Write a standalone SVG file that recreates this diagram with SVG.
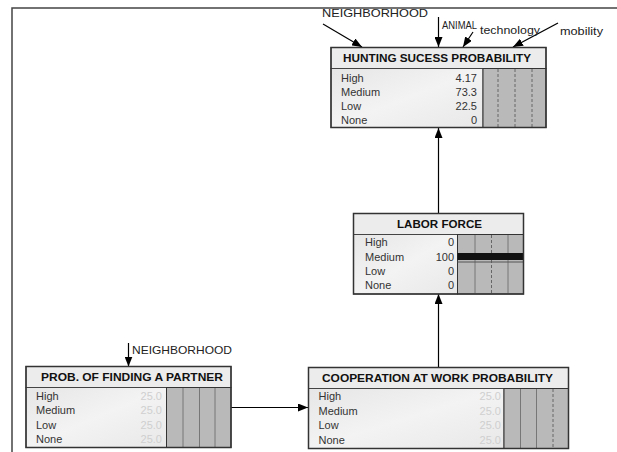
<svg xmlns="http://www.w3.org/2000/svg" width="617" height="452" viewBox="0 0 617 452">
<defs>
<linearGradient id="bodyg" x1="0" y1="0" x2="1" y2="1">
<stop offset="0" stop-color="#e6e6e6"/><stop offset="0.5" stop-color="#f3f3f3"/><stop offset="1" stop-color="#e8e8e8"/>
</linearGradient>
<marker id="ah" viewBox="0 0 10 8" refX="10" refY="4" markerWidth="10" markerHeight="8" markerUnits="userSpaceOnUse" orient="auto">
<path d="M0,0 L10,4 L0,8 z" fill="#000"/>
</marker>
<style>
.box{fill:none;stroke:#333;stroke-width:1.5}
.title{fill:#ececec;stroke:#444;stroke-width:1}
.body{fill:url(#bodyg);stroke:#444;stroke-width:1}
.bars{fill:#b9b9b9;stroke:#333;stroke-width:1}
.vl{stroke:#777;stroke-width:1}
.dl{stroke:#666;stroke-width:1;stroke-dasharray:3,2}
.tt{font-family:"Liberation Sans",Arial,sans-serif;font-weight:bold;font-size:10.5px;fill:#111}
.lb{font-family:"Liberation Sans",Arial,sans-serif;font-size:11px;fill:#333}
.val{font-family:"Liberation Sans",Arial,sans-serif;font-size:11px;fill:#333;text-anchor:end}
.vlt{font-family:"Liberation Sans",Arial,sans-serif;font-size:11px;fill:#cfcfcf;text-anchor:end}
.ext{font-family:"Liberation Sans",Arial,sans-serif;font-size:11px;fill:#222}
.cn{stroke:#000;stroke-width:1.2;fill:none}
</style>
</defs>
<rect x="0" y="0" width="617" height="452" fill="#fff"/>
<path d="M12,452 L12,8 L617,8" fill="none" stroke="#444" stroke-width="1.5"/>

<g id="connectors">
<line class="cn" x1="323" y1="24" x2="362" y2="47" marker-end="url(#ah)"/>
<line class="cn" x1="438.5" y1="17" x2="438.5" y2="47" marker-end="url(#ah)"/>
<line class="cn" x1="473" y1="32" x2="463" y2="47" marker-end="url(#ah)"/>
<line class="cn" x1="558" y1="23" x2="513" y2="47" marker-end="url(#ah)"/>
<line class="cn" x1="438.5" y1="213" x2="438.5" y2="128" marker-end="url(#ah)"/>
<line class="cn" x1="438.5" y1="367" x2="438.5" y2="294" marker-end="url(#ah)"/>
<line class="cn" x1="231" y1="407.5" x2="308" y2="407.5" marker-end="url(#ah)"/>
<line class="cn" x1="128.5" y1="343" x2="128.5" y2="366.5" marker-end="url(#ah)"/>
</g>

<g id="labels">
<text class="ext" x="322" y="17" textLength="106" lengthAdjust="spacingAndGlyphs">NEIGHBORHOOD</text>
<text class="ext" x="442" y="29" textLength="35" lengthAdjust="spacingAndGlyphs">ANIMAL</text>
<text class="ext" x="480" y="34" textLength="60" lengthAdjust="spacingAndGlyphs">technology</text>
<text class="ext" x="560" y="35" textLength="43" lengthAdjust="spacingAndGlyphs">mobility</text>
<text class="ext" x="132" y="354" textLength="100" lengthAdjust="spacingAndGlyphs">NEIGHBORHOOD</text>
</g>

<g id="hunting">
<rect class="title" x="331" y="47.5" width="215" height="21"/>
<rect class="body" x="331" y="68.5" width="152" height="59"/>
<rect class="bars" x="483" y="68.5" width="63" height="59"/>
<line class="dl" x1="498" y1="69" x2="498" y2="127"/>
<line class="dl" x1="515" y1="69" x2="515" y2="127"/>
<line class="dl" x1="532" y1="69" x2="532" y2="127"/>
<rect class="box" x="331" y="47.5" width="215" height="80"/>
<text class="tt" x="343" y="62" textLength="188" lengthAdjust="spacingAndGlyphs">HUNTING SUCESS PROBABILITY</text>
<text class="lb" x="341" y="81.5">High</text>
<text class="lb" x="341" y="95.5">Medium</text>
<text class="lb" x="341" y="110">Low</text>
<text class="lb" x="341" y="124">None</text>
<text class="val" x="477" y="81.5">4.17</text>
<text class="val" x="477" y="95.5">73.3</text>
<text class="val" x="477" y="110">22.5</text>
<text class="val" x="477" y="124">0</text>
</g>

<g id="labor">
<rect class="title" x="353.5" y="213.5" width="170" height="21"/>
<rect class="body" x="353.5" y="234.5" width="104" height="59.5"/>
<rect class="bars" x="457.5" y="234.5" width="66" height="59.5"/>
<line class="vl" x1="475" y1="235" x2="475" y2="294"/>
<line class="dl" x1="491.5" y1="235" x2="491.5" y2="294"/>
<line class="vl" x1="508" y1="235" x2="508" y2="294"/>
<rect x="457.5" y="253" width="66" height="7" fill="#111"/>
<line x1="457.5" y1="262" x2="523.5" y2="262" stroke="#555" stroke-width="1"/>
<rect class="box" x="353.5" y="213.5" width="170" height="80.5"/>
<text class="tt" x="397" y="228" textLength="85" lengthAdjust="spacingAndGlyphs">LABOR FORCE</text>
<text class="lb" x="365" y="246.3">High</text>
<text class="lb" x="365" y="260.7">Medium</text>
<text class="lb" x="365" y="275">Low</text>
<text class="lb" x="365" y="289">None</text>
<text class="val" x="454" y="246.3">0</text>
<text class="val" x="454" y="260.7">100</text>
<text class="val" x="454" y="275">0</text>
<text class="val" x="454" y="289">0</text>
</g>

<g id="partner">
<rect class="title" x="26" y="366.5" width="205" height="21"/>
<rect class="body" x="26" y="387.5" width="140.5" height="60"/>
<rect class="bars" x="166.5" y="387.5" width="64.5" height="60"/>
<line class="vl" x1="183" y1="388" x2="183" y2="447"/>
<line class="vl" x1="199.5" y1="388" x2="199.5" y2="447"/>
<line class="vl" x1="215" y1="388" x2="215" y2="447"/>
<rect class="box" x="26" y="366.5" width="205" height="81"/>
<text class="tt" x="41" y="380.5" textLength="182" lengthAdjust="spacingAndGlyphs">PROB. OF FINDING A PARTNER</text>
<text class="lb" x="36" y="400">High</text>
<text class="lb" x="36" y="414.3">Medium</text>
<text class="lb" x="36" y="429">Low</text>
<text class="lb" x="36" y="443.3">None</text>
<text class="vlt" x="162" y="400">25.0</text>
<text class="vlt" x="162" y="414.3">25.0</text>
<text class="vlt" x="162" y="429">25.0</text>
<text class="vlt" x="162" y="443.3">25.0</text>
</g>

<g id="cooperation">
<rect class="title" x="308.5" y="367.5" width="260" height="21"/>
<rect class="body" x="308.5" y="388.5" width="195.5" height="60"/>
<rect class="bars" x="504" y="388.5" width="64.5" height="60"/>
<line class="vl" x1="520.5" y1="389" x2="520.5" y2="448"/>
<line class="vl" x1="536.5" y1="389" x2="536.5" y2="448"/>
<line class="dl" x1="553" y1="389" x2="553" y2="448"/>
<rect class="box" x="308.5" y="367.5" width="260" height="81"/>
<text class="tt" x="322" y="382" textLength="231" lengthAdjust="spacingAndGlyphs">COOPERATION AT WORK PROBABILITY</text>
<text class="lb" x="318.5" y="400">High</text>
<text class="lb" x="318.5" y="414.7">Medium</text>
<text class="lb" x="318.5" y="429">Low</text>
<text class="lb" x="318.5" y="444">None</text>
<text class="vlt" x="501" y="400">25.0</text>
<text class="vlt" x="501" y="414.7">25.0</text>
<text class="vlt" x="501" y="429">25.0</text>
<text class="vlt" x="501" y="444">25.0</text>
</g>
</svg>
